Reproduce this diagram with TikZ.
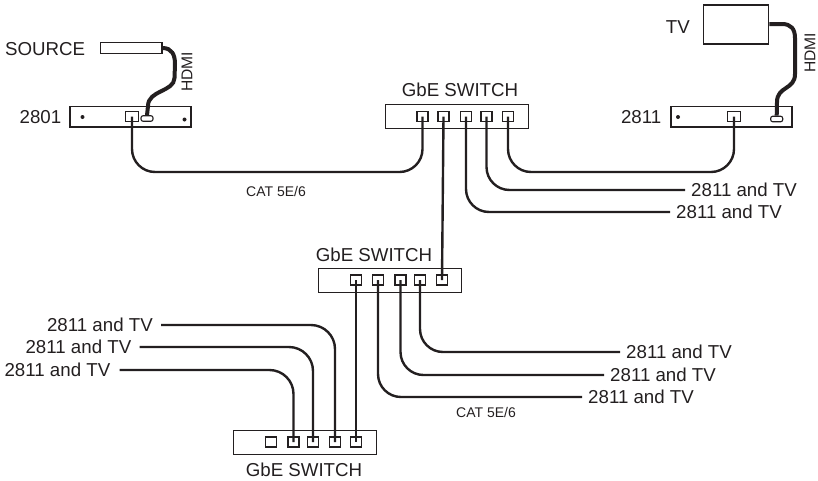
\documentclass[tikz,border=0pt]{standalone}
\usepackage{fontspec}
\setmainfont{Liberation Sans}
\usepackage{xcolor}
\usetikzlibrary{positioning}
\definecolor{tinta}{HTML}{231F20}
\tikzset{
  every picture/.style={font=\fontsize{18.7}{20}\selectfont, text=tinta},
  unit/.style={draw=tinta, line width=1.1pt, fill=white, minimum width=121pt, minimum height=20.5pt, inner sep=0pt},
  swbox/.style={draw=tinta, line width=1.1pt, fill=white, minimum width=143pt, minimum height=24pt, inner sep=0pt},
  port/.style={draw=tinta, line width=1.1pt, fill=white, minimum width=11pt, minimum height=10pt, inner sep=0pt},
  hport/.style={draw=tinta, line width=1.1pt, fill=white, rounded corners=2pt, minimum width=12pt, minimum height=5.5pt, inner sep=0pt},
  pin/.style={circle, fill=tinta, minimum size=4pt, inner sep=0pt},
  lbl/.style={inner sep=0pt},
  small/.style={inner sep=0pt, font=\fontsize{14}{16}\selectfont},
  vert/.style={inner sep=0pt, rotate=90, font=\fontsize{15.6}{18}\selectfont},
  cable/.style={draw=tinta, line width=2.4pt},
  hdmi/.style={draw=tinta, line width=4pt},
}
\begin{document}
\begin{tikzpicture}[x=1pt, y=-1pt]
  \useasboundingbox (0,0) rectangle (818,480);
  % top row
  \node[draw=tinta, line width=1.1pt, minimum width=61.5pt, minimum height=11pt, inner sep=0pt] (src) at (131.2,48) {};
  \node[lbl, anchor=west] (srclbl) at (5,49) {SOURCE};
  \node[unit] (rx) at (130.5,116.7) {};
  \node[lbl, anchor=east] (rxlbl) at (61.5,117) {2801};
  \node[pin] (rxa) at (82.5,117) {};
  \node[pin] (rxb) at (184.5,119.5) {};
  \node[port, minimum width=13pt] (rxnet) at (132,116.5) {};
  \node[hport] (rxhd) at (147,118.5) {};
  \node[unit] (tx) at (731.5,116.7) {};
  \node[lbl, anchor=east] (txlbl) at (661.5,117) {2811};
  \node[pin] (txa) at (678,117) {};
  \node[port, minimum width=13pt] (txnet) at (734,116.5) {};
  \node[hport] (txhd) at (776.7,119) {};
  \node[draw=tinta, line width=1.1pt, minimum width=65.5pt, minimum height=39pt, inner sep=0pt] (tv) at (736,24.5) {};
  \node[lbl, anchor=east] (tvlbl) at (690,27) {TV};
  \node[vert] (hdl) at (187,72) {HDMI};
  \node[vert] (hdr) at (810,53) {HDMI};
  % switches
  \node[swbox] (sw1) at (457.2,116.7) {};
  \node[lbl] (sw1lbl) at (460,90) {GbE SWITCH};
  \node[port] (a1) at (422.5,116.7) {};
  \node[port] (a2) at (443.5,116.7) {};
  \node[port] (a3) at (466,116.7) {};
  \node[port] (a4) at (486.5,116.7) {};
  \node[port] (a5) at (508,116.7) {};
  \node[swbox] (sw2) at (390.2,280.3) {};
  \node[lbl] (sw2lbl) at (374,255) {GbE SWITCH};
  \node[port] (b1) at (356,280) {};
  \node[port] (b2) at (378,280) {};
  \node[port] (b3) at (400.5,280) {};
  \node[port] (b4) at (420,280) {};
  \node[port] (b5) at (442,280) {};
  \node[swbox] (sw3) at (305.2,442.2) {};
  \node[lbl] (sw3lbl) at (304,470) {GbE SWITCH};
  \node[port] (c1) at (271,442) {};
  \node[port] (c2) at (293.5,442) {};
  \node[port] (c3) at (313,442) {};
  \node[port] (c4) at (335,442) {};
  \node[port] (c5) at (356,442) {};
  % far ends
  \node[lbl, anchor=west, inner sep=6pt] (r1) at (685,190) {2811 and TV};
  \node[lbl, anchor=west, inner sep=6pt] (r2) at (670,212) {2811 and TV};
  \node[lbl, anchor=west, inner sep=6pt] (r3) at (620,352) {2811 and TV};
  \node[lbl, anchor=west, inner sep=6pt] (r4) at (604,375) {2811 and TV};
  \node[lbl, anchor=west, inner sep=6pt] (r5) at (582,397) {2811 and TV};
  \node[lbl, anchor=east, inner sep=8pt] (l1) at (161,325) {2811 and TV};
  \node[lbl, anchor=east, inner sep=8pt] (l2) at (139.5,347) {2811 and TV};
  \node[lbl, anchor=east, inner sep=9pt] (l3) at (119.5,370) {2811 and TV};
  \node[small] (cat1) at (276,191) {CAT 5E/6};
  \node[small] (cat2) at (486,412) {CAT 5E/6};
  \coordinate (bend1) at (276,172);
  \coordinate (bend2) at (620,172);
  % cables
  \draw[cable, rounded corners=23pt] (rxnet.center) |- (bend1) -| (a1.center);
  \draw[cable, rounded corners=23pt] (a5.center) |- (bend2) -| (txnet.center);
  \draw[cable, rounded corners=23pt] (a4.center) |- (r1.west);
  \draw[cable, rounded corners=23pt] (a3.center) |- (r2.west);
  \draw[cable] (a2.center) -- (b5.center);
  \draw[cable] (b1.center) -- (c5.center);
  \draw[cable, rounded corners=23pt] (b4.center) |- (r3.west);
  \draw[cable, rounded corners=23pt] (b3.center) |- (r4.west);
  \draw[cable, rounded corners=23pt] (b2.center) |- (r5.west);
  \draw[cable, rounded corners=24pt] (l1.east) -| (c4.center);
  \draw[cable, rounded corners=24pt] (l2.east) -| (c3.center);
  \draw[cable, rounded corners=24pt] (l3.east) -| (c2.center);
  \draw[hdmi] (src.east) .. controls (172,48) and (175,55) .. (175,64) -- (174.5,78) .. controls (174,92) and (148,90) .. (148,106) -- (rxhd.north);
  \draw[hdmi] (tv.east |- 0,24) -- (782,24) .. controls (791,24) and (795,29) .. (795,38) -- (795,74) .. controls (795,90) and (777,86) .. (777,102) -- (txhd.north);
\end{tikzpicture}
\end{document}
